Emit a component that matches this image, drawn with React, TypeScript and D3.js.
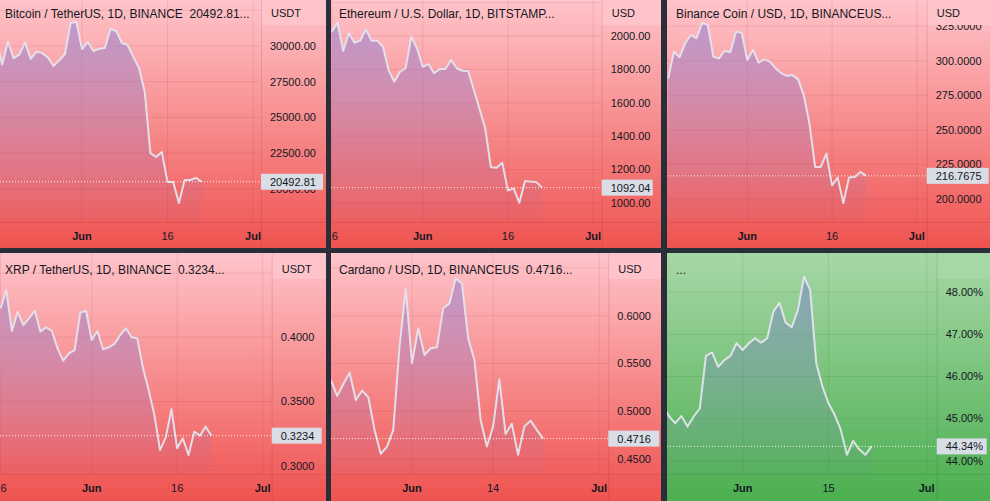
import React from 'react';
import * as d3 from 'd3';

// ---------- DATA ----------
const btcStart = new Date(2022, 4, 17);
const btcValues = [30400, 28700, 30300, 29150, 29400, 30250, 29100, 29600, 29500, 29200, 28600, 29000, 29440, 31600, 31700,
  29790, 30280, 29650, 29800, 29860, 31190, 31050, 30210, 30070, 29230, 28460, 26800, 22500, 22230, 22580, 20480, 20480, 19000, 20620, 20620, 20760, 20492.81];
const btcTicks = [20000, 22500, 25000, 27500, 30000, 32500];

const ethStart = new Date(2022, 4, 16);
const ethValues = [2026, 2080, 1912, 2016, 1960, 1972, 2040, 1972, 1972, 1936, 1796, 1726, 1786, 1807, 1996, 1926,
  1816, 1832, 1777, 1802, 1802, 1856, 1807, 1792, 1790, 1677, 1563, 1447, 1214, 1211, 1241, 1074, 1088, 1002, 1132, 1128, 1125, 1092.04];
const ethTicks = [1000, 1200, 1400, 1600, 1800, 2000, 2200];

const bnbStart = new Date(2022, 4, 18);
const bnbValues = [287.2, 306.5, 302.5, 312.6, 318.6, 316.2, 327.1, 325.9, 302.9, 301.7, 307.2, 306.1, 321, 320.3,
  300.5, 307.8, 298.6, 301, 299.3, 294.5, 291, 289, 289.6, 286.5, 275, 254.6, 223.2, 223.2, 232.9, 209.9, 215.5, 197.1, 215.5, 216, 219.6, 216.7675];
const bnbTicks = [200, 225, 250, 275, 300, 325];

const xrpStart = new Date(2022, 4, 16);
const xrpValues = [0.4226, 0.4368, 0.4051, 0.4199, 0.4096, 0.4148, 0.4207, 0.4044, 0.4078, 0.4051, 0.3914, 0.3818, 0.3875, 0.3901, 0.4192, 0.4207,
  0.3979, 0.4049, 0.3907, 0.3922, 0.3948, 0.4018, 0.407, 0.4, 0.3992, 0.376, 0.359, 0.3395, 0.3122, 0.3221, 0.3439, 0.3136, 0.3213, 0.3083, 0.3265, 0.3234, 0.3304, 0.3234];
const xrpTicks = [0.30, 0.35, 0.40, 0.45];

const adaStart = new Date(2022, 4, 19);
const adaValues = [0.5329, 0.5162, 0.5287, 0.5405, 0.512, 0.5217, 0.5148, 0.4807, 0.4556, 0.4633, 0.4807, 0.5676, 0.6276,
  0.5503, 0.5868, 0.559, 0.566, 0.567, 0.6077, 0.6129, 0.639, 0.6338, 0.5764, 0.5538, 0.4911, 0.4633, 0.4841, 0.5336, 0.4765, 0.487, 0.4546, 0.4841, 0.4904, 0.4807, 0.4716];
const adaTicks = [0.45, 0.50, 0.55, 0.60, 0.65];

const domStart = new Date(2022, 4, 19);
const domValues = [45.32, 45.05, 44.89, 45.06, 44.81, 45.05, 45.24, 46.49, 46.57, 46.23, 46.39, 46.49, 46.79,
  46.63, 46.79, 46.91, 46.80, 46.91, 47.54, 47.75, 47.28, 47.17, 47.58, 48.37, 48.05, 46.31, 45.76, 45.36, 45.09, 44.73, 44.14, 44.47, 44.27, 44.14, 44.34];
const domTicks = [44, 45, 46, 47, 48];

const titles = [
  'Bitcoin / TetherUS, 1D, BINANCE  20492.81...',
  'Ethereum / U.S. Dollar, 1D, BITSTAMP...',
  'Binance Coin / USD, 1D, BINANCEUS...',
  'XRP / TetherUS, 1D, BINANCE  0.3234...',
  'Cardano / USD, 1D, BINANCEUS  0.4716...',
  '...',
];
const currencies = ['USDT', 'USD', 'USD', 'USDT', 'USD', ''];

const may16 = new Date(2022, 4, 16);
const jun1 = new Date(2022, 5, 1);
const jun14 = new Date(2022, 5, 14);
const jun15 = new Date(2022, 5, 15);
const jun16 = new Date(2022, 5, 16);
const jul1 = new Date(2022, 6, 1);
const timeTicksA = [may16, jun1, jun16, jul1];
const timeTicksB = [jun1, jun14, jul1];
const timeTicksC = [jun1, jun15, jul1];

// ---------- LAYOUT ----------
const W = 990, H = 501;
const rows = [
  { top: 0, bottom: 248, axisY: 222, titleY: 18, headerBottom: 25, tickY: 240 },
  { top: 253, bottom: 501, axisY: 474, titleY: 274, headerBottom: 279, tickY: 492 },
];
const cols = [
  { left: 0, right: 326, titleX: 5 },
  { left: 331, right: 661, titleX: 339 },
  { left: 667, right: 990, titleX: 676 },
];

const dayAt = (d: number) => new Date(jun1.getTime() + d * 86400000);

const fmt2 = d3.format('.2f');
const fmt4 = d3.format('.4f');
const fmtPct = (v: number) => d3.format('.2f')(v) + '%';

const panels = [
  { row: 0, col: 0, start: btcStart, values: btcValues, ticks: btcTicks, times: timeTicksA, axisX: 261, days: [-14.39, 31.4], yDom: [17675, 33221], fmt: fmt2, boxW: 62, green: false },
  { row: 0, col: 1, start: ethStart, values: ethValues, ticks: ethTicks, times: timeTicksA, axisX: 601.7, days: [-16.14, 31.5], yDom: [886.2, 2215.6], fmt: fmt2, boxW: 51, green: false },
  { row: 0, col: 2, start: bnbStart, values: bnbValues, ticks: bnbTicks, times: timeTicksA, axisX: 926.7, days: [-14.21, 31.75], yDom: [183.4, 343.9], fmt: fmt4, boxW: 62, green: false },
  { row: 1, col: 0, start: xrpStart, values: xrpValues, ticks: xrpTicks, times: timeTicksA, axisX: 271.7, days: [-16.1, 31.6], yDom: [0.29354, 0.46566], fmt: fmt4, boxW: 50, green: false },
  { row: 1, col: 1, start: adaStart, values: adaValues, ticks: adaTicks, times: timeTicksB, axisX: 608.3, days: [-12.98, 31.46], yDom: [0.43464, 0.6655], fmt: fmt4, boxW: 51, green: false },
  { row: 1, col: 2, start: domStart, values: domValues, ticks: domTicks, times: timeTicksC, axisX: 936.7, days: [-12.35, 31.64], yDom: [43.684, 48.933], fmt: fmtPct, boxW: 50, green: true },
];

const FONT = '"Liberation Sans", Arial, sans-serif';
const TEXT = '#131722';

function Panel({ p, i }: { p: any; i: number }) {
  const r = rows[p.row];
  const c = cols[p.col];
  const x = d3.scaleTime().domain([dayAt(p.days[0]), dayAt(p.days[1])]).range([c.left, p.axisX]);
  const y = d3.scaleLinear().domain(p.yDom).range([r.axisY, r.top]);
  const pts = p.values.map((v: number, k: number) => ({ d: d3.timeDay.offset(p.start, k), v }));
  const line = d3.line<any>().x(q => x(q.d)).y(q => y(q.v));
  const area = d3.area<any>().x(q => x(q.d)).y0(r.axisY).y1(q => y(q.v));
  const last = p.values[p.values.length - 1];
  const ly = y(last);
  const gridColor = p.green ? 'rgba(20,90,30,0.10)' : 'rgba(140,30,50,0.10)';
  const sepColor = p.green ? 'rgba(20,90,30,0.16)' : 'rgba(140,30,50,0.16)';
  const topCol = p.green ? '#a6d7a6' : '#ffc4ca';
  const botCol = p.green ? '#4caf50' : '#ef5350';
  const pw = c.right - c.left;
  const ph = r.bottom - r.top;
  const shownTicks = p.ticks.filter((t: number) => y(t) > r.headerBottom - 4);
  const shownTimes = p.times.filter((t: Date) => x(t) > c.left - 4);
  return (
    <g>
      <defs>
        <clipPath id={`pc${i}`}><rect x={c.left} y={r.top} width={pw} height={ph} /></clipPath>
        <clipPath id={`pl${i}`}><rect x={c.left} y={r.top} width={p.axisX - c.left} height={r.axisY - r.top} /></clipPath>
        <linearGradient id={`bg${i}`} gradientUnits="userSpaceOnUse" x1={0} y1={r.top} x2={0} y2={r.bottom}>
          <stop offset="0" stopColor={topCol} />
          <stop offset="1" stopColor={botCol} />
        </linearGradient>
        <linearGradient id={`ar${i}`} gradientUnits="userSpaceOnUse" x1={0} y1={r.top} x2={0} y2={r.axisY}>
          <stop offset="0" stopColor="rgb(118,112,214)" stopOpacity={0.5} />
          <stop offset="1" stopColor="rgb(118,112,214)" stopOpacity={0.04} />
        </linearGradient>
      </defs>
      <g clipPath={`url(#pc${i})`}>
        <rect x={c.left} y={r.top} width={pw} height={ph} fill={`url(#bg${i})`} />
        {/* grid */}
        {p.ticks.map((t: number) => (
          <line key={'h' + t} x1={c.left} x2={p.axisX} y1={y(t)} y2={y(t)} stroke={gridColor} strokeWidth={1} />
        ))}
        {p.times.map((t: Date) => (
          <line key={'v' + t.getTime()} x1={x(t)} x2={x(t)} y1={r.top} y2={r.axisY} stroke={gridColor} strokeWidth={1} />
        ))}
        <g clipPath={`url(#pl${i})`}>
          <path d={area(pts) || ''} fill={`url(#ar${i})`} />
          <path d={line(pts) || ''} fill="none" stroke="rgba(228,228,238,0.95)" strokeWidth={2} strokeLinejoin="round" />
          <line x1={c.left} x2={p.axisX} y1={ly} y2={ly} stroke="rgba(255,255,255,0.9)" strokeWidth={1} strokeDasharray="1 2" />
        </g>
        {/* axes borders */}
        <line x1={c.left} x2={c.right} y1={r.axisY + 0.5} y2={r.axisY + 0.5} stroke={sepColor} />
        <line x1={p.axisX + 0.5} x2={p.axisX + 0.5} y1={r.top} y2={r.bottom} stroke={sepColor} />
        {/* price labels */}
        {shownTicks.map((t: number) => (
          <text key={'l' + t} x={p.axisX + 9} y={y(t)} dy="0.35em" fontSize={11} fontFamily={FONT} fill={TEXT}>{p.fmt(t)}</text>
        ))}
        {/* header of price scale */}
        <rect x={p.axisX + 1} y={r.top} width={c.right - p.axisX - 1} height={r.headerBottom - r.top} fill={topCol} />
        <text x={p.axisX + 10} y={r.titleY - 1} fontSize={11} fontFamily={FONT} fill={TEXT}>{currencies[i]}</text>
        {/* title */}
        <text x={c.titleX} y={r.titleY} fontSize={12} fontFamily={FONT} fill={TEXT} style={{ whiteSpace: 'pre' }}>{titles[i]}</text>
        {/* time labels */}
        {shownTimes.map((t: Date) => {
          const isMonth = t.getDate() === 1;
          return (
            <text key={'t' + t.getTime()} x={x(t)} y={r.tickY} textAnchor="middle" fontSize={11} fontFamily={FONT} fill={TEXT} fontWeight={isMonth ? 'bold' : 'normal'}>
              {isMonth ? d3.timeFormat('%b')(t) : d3.timeFormat('%-d')(t)}
            </text>
          );
        })}
        {/* last value box */}
        <rect x={p.axisX} y={ly - 8} width={p.boxW} height={16} fill="#d8dde6" />
        <text x={p.axisX + 9} y={ly} dy="0.36em" fontSize={11} fontFamily={FONT} fill={TEXT}>{p.fmt(last)}</text>
      </g>
    </g>
  );
}

export default function App() {
  return (
    <div style={{ position: 'absolute', left: 0, top: 0 }}>
      <svg width={W} height={H} style={{ display: 'block' }}>
        <rect x={0} y={0} width={W} height={H} fill="#2a2e39" />
        {panels.map((p, i) => <Panel key={i} p={p} i={i} />)}
      </svg>
    </div>
  );
}
